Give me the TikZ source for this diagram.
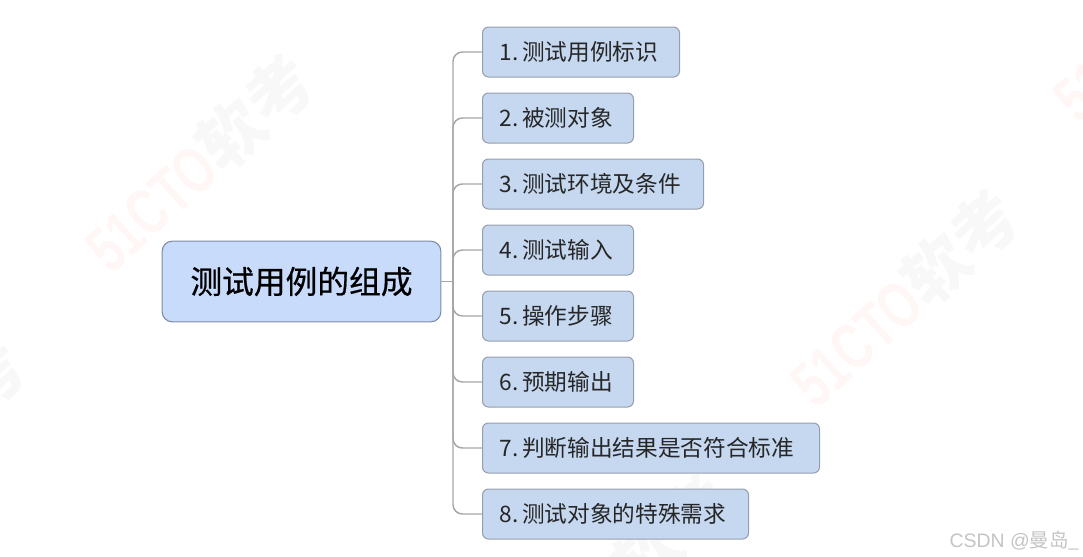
\documentclass[tikz,border=0pt]{standalone}
\usepackage{fontspec}
\usepackage{tikz}
\setmainfont{Noto Sans CJK SC}
\newfontfamily\markfont{Liberation Sans}
\newfontfamily\rootfont{Noto Sans CJK SC}[FakeBold=0.6]
\definecolor{rootfill}{RGB}{201,219,250}
\definecolor{rootline}{RGB}{125,138,165}
\definecolor{branchfill}{RGB}{197,216,240}
\definecolor{branchline}{RGB}{150,158,172}
\definecolor{linkgray}{RGB}{166,166,166}
\definecolor{markred}{RGB}{255,247,245}
\definecolor{markgray}{RGB}{248,248,248}
\definecolor{signgray}{RGB}{196,196,196}
\tikzset{
    rootbox/.style={draw=rootline,fill=rootfill,rounded corners=7.5pt,line width=0.8pt,
        minimum width=209pt,minimum height=60.5pt,inner sep=0pt,font=\fontsize{23.8}{26}\rootfont,text=black},
    branchbox/.style={draw=branchline,fill=branchfill,rounded corners=4.5pt,line width=0.75pt,
        anchor=west,text width={(#1-34)*0.75pt},align=left,inner xsep=12.75pt,inner ysep=0pt,
        minimum height=37.5pt,font=\fontsize{17}{20}\selectfont,text=black!85},
    link/.style={draw=linkgray,line width=1.1pt},
    markstyle/.style={rotate=42,inner sep=0pt,font=\fontsize{49}{54}\selectfont\bfseries},
}
\begin{document}
\begin{tikzpicture}[x=0.75pt,y=0.75pt,yscale=-1,xscale=1]
    \useasboundingbox (0,0) rectangle (1083,557);

    % Watermarks
    \begin{scope}
    \clip (0,0) rectangle (1083,557);
    \foreach \n/\mx/\my in {m1/199/163,m2/904/298,m3/-89/448,m4/616/583,m5/1167/13}{
        \node (\n) [markstyle] at (\mx,\my) {\textcolor{markred}{\markfont\scalebox{0.72}[1]{51CTO}}\textcolor{markgray}{软考}};
    }
    \end{scope}

    % Root
    \node (root) [rootbox] at (301.5,281.5) {测试用例的组成};
    \coordinate (trunk) at (453,281.5);

    % Branches
    \foreach \n/\by/\bw/\txt in {b1/52/197/{1.\,测试用例标识},b2/118/151/{2.\,被测对象},b3/184/221/{3.\,测试环境及条件},b4/250/151/{4.\,测试输入},b5/316/151/{5.\,操作步骤},b6/382/151/{6.\,预期输出},b7/448/337/{7.\,判断输出结果是否符合标准},b8/514/266/{8.\,测试对象的特殊需求}}{
        \node (\n) [branchbox=\bw] at (482,\by) {\raisebox{0.75pt}{\txt}};
        \draw [link,rounded corners=7pt] (trunk) |- (\n.west);
    }
    \draw [link] (root.east) -- (trunk);

    % Signature
    \node (sign) [anchor=east,inner sep=0pt,text=signgray,font=\fontsize{14.6}{16}\selectfont] at (1080,541) {{\markfont CSDN @}曼岛\_};
\end{tikzpicture}
\end{document}
